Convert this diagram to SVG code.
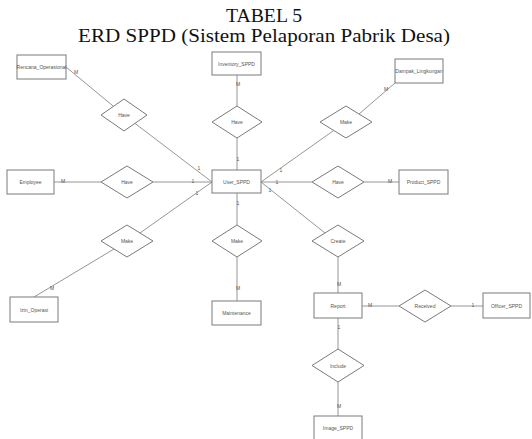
<svg xmlns="http://www.w3.org/2000/svg" width="532" height="439" viewBox="0 0 532 439">
<style>
.bg{fill:#fff}
.title{font-family:"Liberation Serif","Times New Roman",serif;font-size:18.5px;fill:#111;text-anchor:middle}
.ent rect{fill:#fff;stroke:#7a7a7a;stroke-width:1}
.rel polygon{fill:#fff;stroke:#7a7a7a;stroke-width:1}
.lbl{font-family:"Liberation Sans",Arial,sans-serif;font-size:5px;fill:#555;text-anchor:middle;dominant-baseline:central}
.conn line{stroke:#8a8a8a;stroke-width:0.9;fill:none}
.card{font-family:"Liberation Sans",Arial,sans-serif;font-size:5px;fill:#555;text-anchor:middle;dominant-baseline:central}
</style>
<rect class="bg" x="0" y="0" width="532" height="439"/>
<text class="title" x="264" y="22" textLength="76" lengthAdjust="spacingAndGlyphs">TABEL 5</text>
<text class="title" x="264" y="42" textLength="372" lengthAdjust="spacingAndGlyphs">ERD SPPD (Sistem Pelaporan Pabrik Desa)</text>

<g id="connectors" class="conn">
<line x1="66" y1="67" x2="113.5" y2="106.3"/>
<line x1="135" y1="123.4" x2="212" y2="182"/>
<line x1="237" y1="75" x2="237" y2="106"/>
<line x1="237" y1="138" x2="237" y2="170"/>
<line x1="395" y1="83" x2="359" y2="114"/>
<line x1="333" y1="131" x2="261" y2="182"/>
<line x1="54" y1="182" x2="101" y2="182"/>
<line x1="153" y1="182" x2="212" y2="182"/>
<line x1="261" y1="182" x2="312" y2="182"/>
<line x1="364" y1="182" x2="399" y2="182"/>
<line x1="34" y1="297" x2="114" y2="249"/>
<line x1="140" y1="233" x2="212" y2="182"/>
<line x1="237" y1="193" x2="237" y2="225"/>
<line x1="237" y1="257" x2="237" y2="301"/>
<line x1="261" y1="182" x2="325" y2="233"/>
<line x1="338" y1="257" x2="338" y2="293"/>
<line x1="362" y1="306" x2="399" y2="306"/>
<line x1="451" y1="306" x2="483" y2="306"/>
<line x1="338" y1="318" x2="338" y2="349"/>
<line x1="338" y1="382" x2="338" y2="416"/>
</g>

<g id="cardinalities">
<text class="card" x="76" y="72">M</text>
<text class="card" x="199" y="168">1</text>
<text class="card" x="238" y="84">M</text>
<text class="card" x="238" y="159">1</text>
<text class="card" x="386" y="89">M</text>
<text class="card" x="281" y="170">1</text>
<text class="card" x="63" y="181">M</text>
<text class="card" x="193" y="181">1</text>
<text class="card" x="277" y="182">1</text>
<text class="card" x="390" y="181">M</text>
<text class="card" x="52" y="288">M</text>
<text class="card" x="197" y="193">1</text>
<text class="card" x="238" y="203">1</text>
<text class="card" x="238" y="288">M</text>
<text class="card" x="270" y="190">1</text>
<text class="card" x="339" y="284">M</text>
<text class="card" x="370" y="305">M</text>
<text class="card" x="473" y="305">1</text>
<text class="card" x="339" y="327">1</text>
<text class="card" x="339" y="406">M</text>
</g>

<g id="Rencana_Operasional" class="ent"><rect x="17" y="55" width="49" height="24"/><text class="lbl" x="41.5" y="67">Rencana_Operasional</text></g>
<g id="Inventory_SPPD" class="ent"><rect x="212" y="52" width="49" height="23"/><text class="lbl" x="236.5" y="63.5">Inventory_SPPD</text></g>
<g id="Dampak_Lingkungan" class="ent"><rect x="395" y="59" width="48" height="24"/><text class="lbl" x="419" y="71">Dampak_Lingkungan</text></g>
<g id="Employee" class="ent"><rect x="7" y="170" width="47" height="24"/><text class="lbl" x="30.5" y="182">Employee</text></g>
<g id="User_SPPD" class="ent"><rect x="212" y="170" width="49" height="23"/><text class="lbl" x="236.5" y="181.5">User_SPPD</text></g>
<g id="Product_SPPD" class="ent"><rect x="399" y="170" width="49" height="24"/><text class="lbl" x="423.5" y="182">Product_SPPD</text></g>
<g id="Izin_Operasi" class="ent"><rect x="10" y="297" width="48" height="25"/><text class="lbl" x="34" y="309.5">Izin_Operasi</text></g>
<g id="Maintenance" class="ent"><rect x="212" y="301" width="49" height="24"/><text class="lbl" x="236.5" y="313">Maintenance</text></g>
<g id="Report" class="ent"><rect x="314" y="293" width="48" height="25"/><text class="lbl" x="338" y="305.5">Report</text></g>
<g id="Officer_SPPD" class="ent"><rect x="483" y="293" width="47" height="25"/><text class="lbl" x="506.5" y="305.5">Officer_SPPD</text></g>
<g id="Image_SPPD" class="ent"><rect x="314" y="416" width="48" height="25"/><text class="lbl" x="338" y="428">Image_SPPD</text></g>

<g id="Have_Rencana" class="rel"><polygon points="124,99 147,115 124,131 101,115"/><text class="lbl" x="124" y="115">Have</text></g>
<g id="Have_Inventory" class="rel"><polygon points="237,106 262,122 237,138 212,122"/><text class="lbl" x="237" y="122">Have</text></g>
<g id="Make_Dampak" class="rel"><polygon points="346,106 372,122 346,138 320,122"/><text class="lbl" x="346" y="122">Make</text></g>
<g id="Have_Employee" class="rel"><polygon points="127,166 153,182 127,198 101,182"/><text class="lbl" x="127" y="182">Have</text></g>
<g id="Have_Product" class="rel"><polygon points="338,166 364,182 338,198 312,182"/><text class="lbl" x="338" y="182">Have</text></g>
<g id="Make_Izin" class="rel"><polygon points="127,225 153,241 127,257 101,241"/><text class="lbl" x="127" y="241">Make</text></g>
<g id="Make_Maintenance" class="rel"><polygon points="237,225 262,241 237,257 212,241"/><text class="lbl" x="237" y="241">Make</text></g>
<g id="Create" class="rel"><polygon points="338,225 364,241 338,257 312,241"/><text class="lbl" x="338" y="241">Create</text></g>
<g id="Received" class="rel"><polygon points="425,290 451,306 425,322 399,306"/><text class="lbl" x="425" y="306">Received</text></g>
<g id="Include" class="rel"><polygon points="338,349 364,365.5 338,382 312,365.5"/><text class="lbl" x="338" y="365.5">Include</text></g>
</svg>
